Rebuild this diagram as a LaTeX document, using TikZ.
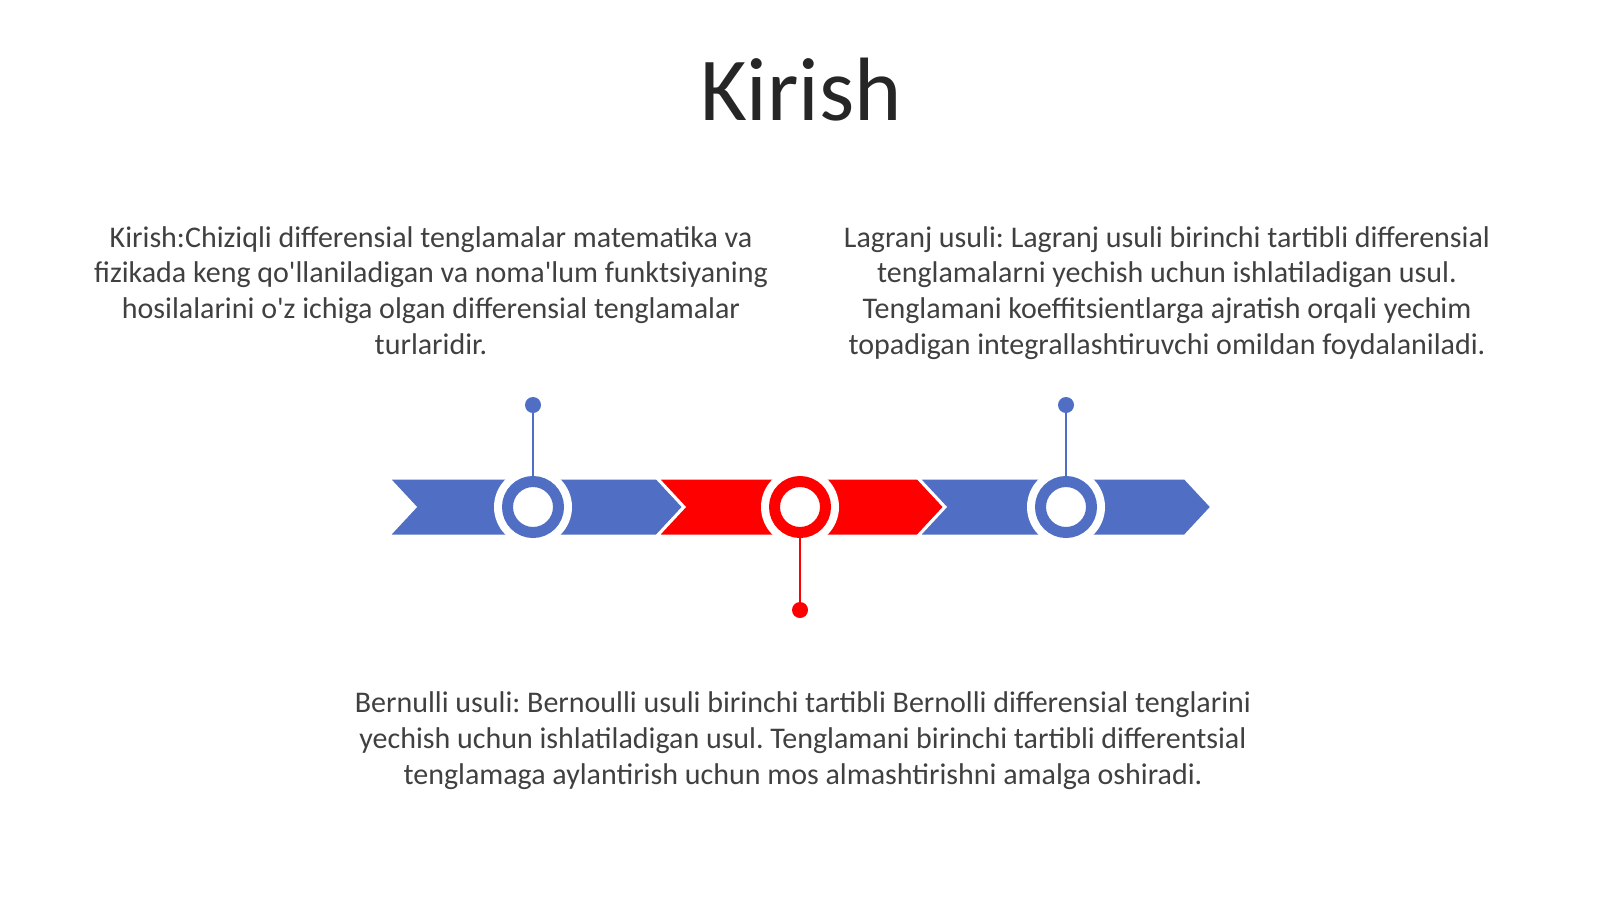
\documentclass[tikz,border=0pt]{standalone}
\usepackage{fontspec}
\setmainfont{Carlito}
\usetikzlibrary{positioning}
\frenchspacing

\definecolor{chevblue}{RGB}{79,110,196}
\definecolor{chevred}{RGB}{255,0,0}
\definecolor{bodygray}{RGB}{64,64,64}
\definecolor{titlegray}{RGB}{38,38,38}
\newcommand{\bodyfont}{\fontsize{18}{21.5}\selectfont}
\newcommand{\titlefont}{\fontsize{54}{64}\selectfont}

\tikzset{
  chevron/.style={draw=white, line width=1.8pt, line join=miter},
  halo/.style={circle, fill=white, minimum size=46.8pt, inner sep=0pt},
  ring/.style={circle, draw=#1, fill=white, line width=6.6pt, minimum size=30.6pt, inner sep=0pt},
  pindot/.style={circle, fill=#1, minimum size=9.6pt, inner sep=0pt},
  stem/.style={draw=#1, line width=1.5pt},
  blurb/.style={align=center, font=\bodyfont, text=bodygray, inner sep=0pt}
}

\begin{document}
\begin{tikzpicture}[x=0.6pt, y=-0.6pt]
    \useasboundingbox (0,0) rectangle (1600,899);
    \node[font=\titlefont, text=titlegray, anchor=base] (title) at (801,120) {Kirish};

    % chevrons
    \filldraw[chevron, fill=chevblue] (388,478) -- (657,478) -- (684,507) -- (657,536) -- (388,536) -- (415,507) -- cycle;
    \filldraw[chevron, fill=chevred] (657,478) -- (918,478) -- (945,507) -- (918,536) -- (657,536) -- (684,507) -- cycle;
    \filldraw[chevron, fill=chevblue] (918,478) -- (1185,478) -- (1212,507) -- (1185,536) -- (918,536) -- (945,507) -- cycle;

    % rings and pins
    \node[halo] (h1) at (533,507) {};
    \node[halo] (h2) at (800,507) {};
    \node[halo] (h3) at (1066,507) {};
    \node[pindot=chevblue] (d1) at (533,405) {};
    \node[pindot=chevred] (d2) at (800,610) {};
    \node[pindot=chevblue] (d3) at (1066,405) {};
    \node[ring=chevblue] (r1) at (533,507) {};
    \node[ring=chevred] (r2) at (800,507) {};
    \node[ring=chevblue] (r3) at (1066,507) {};
    \draw[stem=chevblue] (d1) -- (r1);
    \draw[stem=chevred] (r2) -- (d2);
    \draw[stem=chevblue] (d3) -- (r3);

    % texts (base = last line)
    \node[blurb, anchor=base] (kirish) at (431,354.5) {Kirish:Chiziqli differensial tenglamalar matematika va\\
      fizikada keng qo\textquotesingle llaniladigan va noma\textquotesingle lum funktsiyaning\\
      hosilalarini o\textquotesingle z ichiga olgan differensial tenglamalar\\
      turlaridir.};
    \node[blurb, anchor=base] (lagranj) at (1167,354.5) {Lagranj usuli: Lagranj usuli birinchi tartibli differensial\\
      tenglamalarni yechish uchun ishlatiladigan usul.\\
      Tenglamani koeffitsientlarga ajratish orqali yechim\\
      topadigan integrallashtiruvchi omildan foydalaniladi.};
    \node[blurb, anchor=base] (bernulli) at (803,784.5) {Bernulli usuli: Bernoulli usuli birinchi tartibli Bernolli differensial tenglarini\\
      yechish uchun ishlatiladigan usul. Tenglamani birinchi tartibli differentsial\\
      tenglamaga aylantirish uchun mos almashtirishni amalga oshiradi.};
  \end{tikzpicture}
\end{document}
